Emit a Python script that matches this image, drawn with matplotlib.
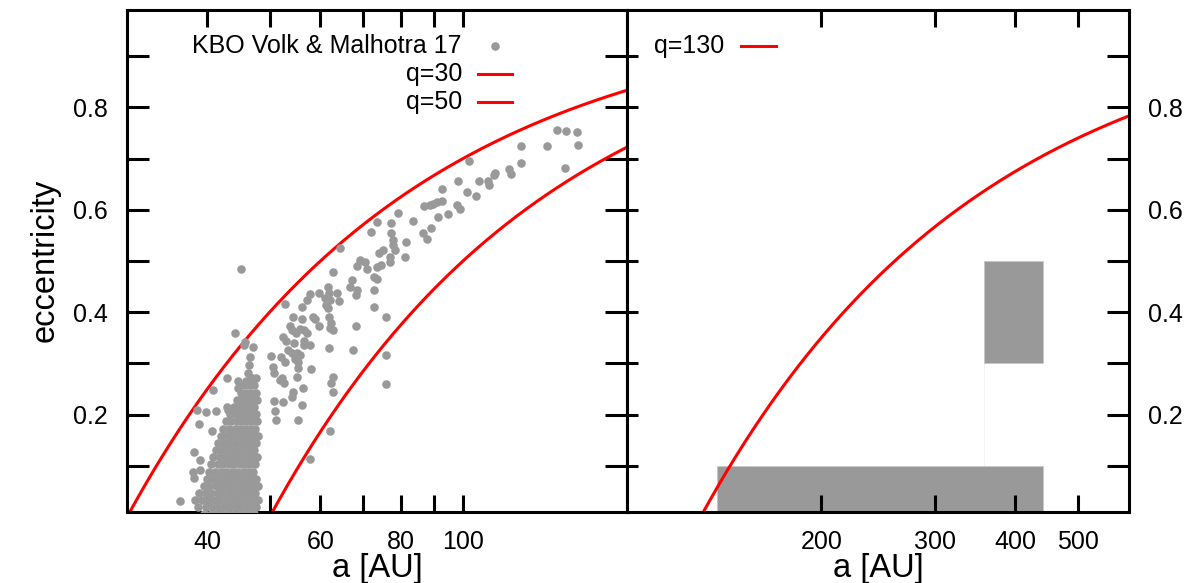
import numpy as np
import matplotlib
matplotlib.use('Agg')
import matplotlib.pyplot as plt
from matplotlib.patches import Rectangle
from matplotlib.ticker import NullLocator

plt.rcParams['font.family'] = ['Liberation Sans', 'DejaVu Sans']

# scattered KBOs: semi-major axis [AU] and eccentricity
kbo_a = [139.9, 144.5, 150.6, 151.0, 144.2, 135.0, 123.0, 123.3, 117.9, 118.8,
         112.2, 111.9, 109.3, 109.8, 106.0, 102.2, 98.4, 101.6, 104.7, 92.7,
         92.7, 91.2, 89.9, 88.9, 87.1, 97.8, 98.8, 94.8, 91.5, 89.2,
         86.7, 87.8, 83.7, 79.3, 77.3, 77.3, 77.9, 77.9, 78.4, 81.4,
         81.2, 77.0, 77.0, 75.2, 74.5, 73.4, 71.9, 74.0, 73.6, 69.1,
         70.4, 68.5, 71.0, 64.4, 62.7, 72.6, 73.6, 67.3, 66.7, 68.5,
         68.1, 72.6, 61.6, 61.9, 63.6, 59.8, 61.0, 62.1, 64.2, 57.9,
         57.1, 61.2, 61.6, 56.1, 72.6, 52.9, 54.3, 56.2, 58.4, 58.9,
         59.8, 61.9, 62.3, 62.1, 62.8, 68.2, 75.9, 53.8, 54.1, 55.0,
         55.8, 56.5, 57.1, 52.5, 53.0, 54.6, 56.5, 56.5, 57.8, 61.9,
         67.4, 53.5, 54.1, 55.1, 55.8, 50.2, 52.1, 52.8, 54.8, 55.3,
         75.8, 50.6, 50.8, 55.4, 58.0, 51.9, 52.7, 55.1, 62.8, 62.4,
         54.3, 56.3, 62.8, 75.8, 54.1, 50.8, 52.5, 56.2, 50.9, 55.3,
         45.2, 44.1, 45.8, 45.6, 47.1, 46.6, 46.3, 43.0, 44.6, 46.0,
         52.2, 40.9, 44.6, 39.8, 41.2, 42.9, 43.1, 38.5, 38.8, 40.7,
         38.1, 39.0, 38.0, 39.0, 36.3, 38.1, 51.2, 62.2, 57.7]
kbo_e = [0.756, 0.754, 0.751, 0.726, 0.681, 0.725, 0.725, 0.692, 0.679, 0.669,
         0.672, 0.668, 0.657, 0.648, 0.656, 0.695, 0.657, 0.635, 0.627, 0.641,
         0.618, 0.616, 0.611, 0.609, 0.608, 0.609, 0.601, 0.591, 0.585, 0.564,
         0.554, 0.543, 0.579, 0.593, 0.574, 0.554, 0.541, 0.531, 0.522, 0.537,
         0.508, 0.508, 0.499, 0.522, 0.492, 0.576, 0.557, 0.516, 0.489, 0.502,
         0.499, 0.490, 0.484, 0.525, 0.479, 0.469, 0.464, 0.462, 0.450, 0.443,
         0.433, 0.443, 0.449, 0.438, 0.438, 0.438, 0.427, 0.424, 0.421, 0.435,
         0.423, 0.414, 0.408, 0.410, 0.411, 0.416, 0.390, 0.387, 0.391, 0.387,
         0.373, 0.391, 0.378, 0.369, 0.365, 0.373, 0.390, 0.373, 0.365, 0.360,
         0.367, 0.365, 0.359, 0.351, 0.344, 0.340, 0.344, 0.336, 0.336, 0.331,
         0.326, 0.326, 0.320, 0.320, 0.317, 0.315, 0.313, 0.302, 0.308, 0.302,
         0.317, 0.293, 0.282, 0.291, 0.289, 0.268, 0.261, 0.274, 0.274, 0.262,
         0.245, 0.252, 0.245, 0.260, 0.235, 0.227, 0.225, 0.218, 0.208, 0.190,
         0.484, 0.359, 0.341, 0.336, 0.333, 0.313, 0.282, 0.272, 0.266, 0.266,
         0.271, 0.248, 0.253, 0.205, 0.207, 0.215, 0.209, 0.209, 0.181, 0.169,
         0.128, 0.112, 0.089, 0.092, 0.032, 0.076, 0.190, 0.168, 0.113]

# dense classical belt core, row by row: (e, list of a)
core_rows = [
    (0.006, [39.6, 40.5, 41.3, 42.2, 43.0, 43.9, 44.8, 45.6, 46.5, 47.3]),
    (0.019, [38.7, 39.8, 40.7, 41.6, 42.4, 43.3, 44.1, 45.0, 45.9, 46.7, 47.6]),
    (0.033, [38.3, 39.3, 40.2, 41.1, 41.9, 42.8, 43.7, 44.5, 45.4, 46.2, 47.1, 47.9]),
    (0.047, [38.9, 39.8, 40.6, 41.5, 42.3, 43.2, 44.0, 44.9, 45.8, 46.6, 47.5]),
    (0.061, [39.5, 40.3, 41.2, 42.0, 42.9, 43.7, 44.6, 45.4, 46.3, 47.1, 47.9]),
    (0.075, [39.9, 40.8, 41.6, 42.5, 43.3, 44.2, 45.0, 45.9, 46.8, 47.6]),
    (0.089, [40.3, 41.1, 42.0, 42.8, 43.7, 44.5, 45.4, 46.3, 47.2]),
    (0.103, [40.6, 41.5, 42.3, 43.2, 44.0, 44.9, 45.8, 46.6, 47.5]),
    (0.117, [40.9, 41.8, 42.7, 43.5, 44.4, 45.2, 46.1, 47.0, 47.8]),
    (0.131, [41.2, 42.1, 43.0, 43.9, 44.7, 45.6, 46.5, 47.3]),
    (0.145, [41.5, 42.4, 43.3, 44.2, 45.1, 45.9, 46.8, 47.6]),
    (0.159, [42.0, 42.9, 43.7, 44.6, 45.4, 46.3, 47.1, 47.9]),
    (0.173, [42.3, 43.2, 44.1, 44.9, 45.8, 46.6, 47.5]),
    (0.187, [42.8, 43.6, 44.5, 45.3, 46.2, 47.0, 47.8]),
    (0.201, [43.4, 44.3, 45.1, 46.0, 46.8, 47.6]),
    (0.215, [44.0, 44.8, 45.7, 46.5, 47.3]),
    (0.229, [44.5, 45.3, 46.2, 47.0, 47.8]),
    (0.243, [45.1, 45.9, 46.8, 47.6]),
    (0.257, [45.6, 46.5, 47.3]),
    (0.271, [46.9, 47.7]),
    (0.296, [46.5]),
]

q_left = [30, 50]
q_right = [130]
# boxes in the right panel: a_min, a_max, e_min, e_max
boxes = [(138, 442, 0.0, 0.10), (358, 442, 0.30, 0.50)]
empty_box = (358, 442, 0.10, 0.30)

GREY = '#999999'
RED = '#ff0000'
FS_TICK = 18
FS_LABEL = 23.5
DOT = 38

fig = plt.figure(figsize=(11.96, 5.83), dpi=100)
axl = fig.add_axes([127 / 1196, 71 / 583, 500 / 1196, 502 / 583])
axr = fig.add_axes([627 / 1196, 71 / 583, 502 / 1196, 502 / 583])

ytick_vals = [0.1, 0.2, 0.3, 0.4, 0.5, 0.6, 0.7, 0.8, 0.9]
ytick_labs = ['', '0.2', '', '0.4', '', '0.6', '', '0.8', '']

for ax, lim in ((axl, (30, 180)), (axr, (100, 600))):
    ax.set_xscale('log')
    ax.set_xlim(*lim)
    ax.set_ylim(0.01, 0.99)
    ax.xaxis.set_minor_locator(NullLocator())
    ax.yaxis.set_minor_locator(NullLocator())
    ax.set_yticks(ytick_vals, ytick_labs)
    for sp in ax.spines.values():
        sp.set_linewidth(2.2)
    ax.tick_params(axis='x', which='both', direction='in', top=True, bottom=True,
                   length=12, width=2.2, pad=13, labelsize=FS_TICK)

# left panel
core_a = [a for e, row in core_rows for a in row]
core_e = [e for e, row in core_rows for a in row]
axl.scatter(kbo_a + core_a, kbo_e + core_e, s=DOT, c=GREY, linewidths=0, zorder=3)

a_grid = np.geomspace(30, 180, 400)
for q in q_left:
    axl.plot(a_grid, 1 - q / a_grid, color=RED, lw=2.2, zorder=2)

axl.set_xticks([40, 50, 60, 70, 80, 90, 100], ['40', '', '60', '', '80', '', '100'])
axl.tick_params(axis='y', direction='in', left=True, right=True, length=16,
                width=2.2, pad=14, labelsize=FS_TICK)

# legend, gnuplot style (text right-justified, sample on the right)
legend_y = [0.928, 0.8725, 0.8167]
axl.text(0.67, legend_y[0], 'KBO Volk & Malhotra 17', transform=axl.transAxes,
         ha='right', va='center', fontsize=FS_TICK)
axl.scatter([0.736], [legend_y[0]], s=DOT, c=GREY, linewidths=0, transform=axl.transAxes)
for q, y in zip(q_left, legend_y[1:]):
    axl.text(0.67, y, f'q={q}', transform=axl.transAxes, ha='right', va='center',
             fontsize=FS_TICK)
    axl.plot([0.702, 0.77], [y, y], color=RED, lw=2.2, transform=axl.transAxes)

axl.text(0.5, -0.112, 'a [AU]', transform=axl.transAxes, ha='center', va='center',
         fontsize=FS_LABEL)
fig.text(45 / 1196, 1 - 260 / 583, 'eccentricity', rotation=90, ha='center',
         va='center', fontsize=FS_LABEL)

# right panel
for a0, a1, e0, e1 in boxes:
    axr.add_patch(Rectangle((a0, e0), a1 - a0, e1 - e0, facecolor=GREY,
                            edgecolor='#c8c8c8', lw=0.6, zorder=1))
a0, a1, e0, e1 = empty_box
axr.plot([a0, a0], [e0, e1], color='#f3f3f3', lw=0.8, zorder=0)

a_grid_r = np.geomspace(100, 600, 400)
for q in q_right:
    axr.plot(a_grid_r, 1 - q / a_grid_r, color=RED, lw=2.2, zorder=2)
    axr.text(0.193, legend_y[0], f'q={q}', transform=axr.transAxes, ha='right',
             va='center', fontsize=FS_TICK)
    axr.plot([0.227, 0.297], [legend_y[0]] * 2, color=RED, lw=2.2,
             transform=axr.transAxes)

axr.set_xticks([200, 300, 400, 500], ['200', '300', '400', '500'])
axr.tick_params(axis='y', direction='in', left=True, right=True, labelleft=False,
                labelright=True, length=16, width=2.2, pad=14, labelsize=FS_TICK)
for t in axr.yaxis.get_major_ticks():
    t.tick1line.set_markersize(8)
axr.text(0.5, -0.112, 'a [AU]', transform=axr.transAxes, ha='center', va='center',
         fontsize=FS_LABEL)

fig.savefig('out.png', dpi=100)
